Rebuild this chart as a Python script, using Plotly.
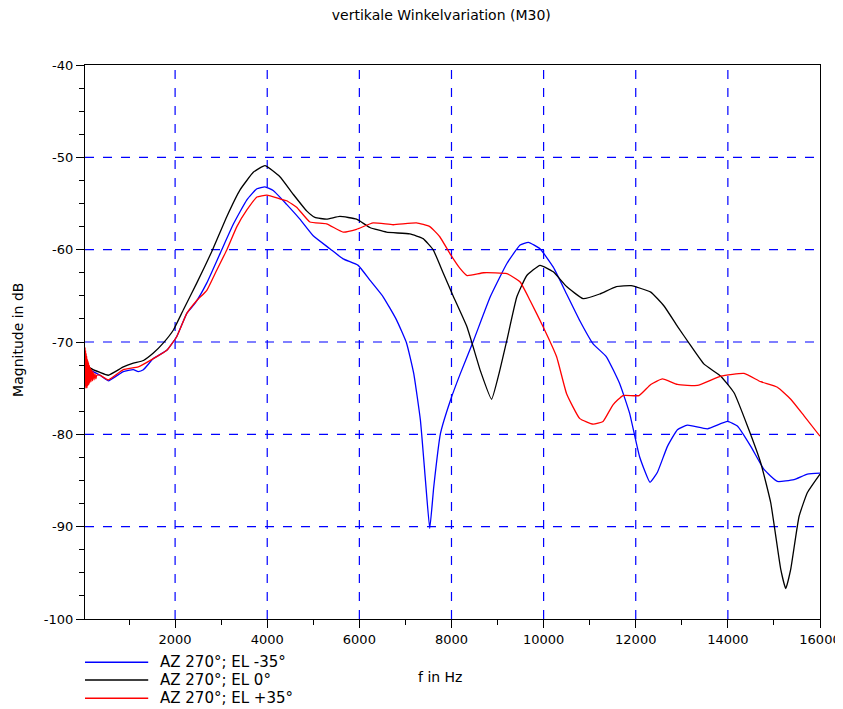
import plotly.graph_objects as go

# ---------------- data ----------------
f_el_m35 = [44, 150, 370, 550, 876, 1093, 1200, 1311, 1528, 1820, 2037, 2254, 2435, 2689, 2978,
            3268, 3558, 3776, 3950, 4130, 4421, 4709, 4998, 5360, 5648, 5974, 6228, 6516, 6806,
            7024, 7180, 7326, 7435, 7528, 7615, 7761, 7978, 8194, 8482, 8842, 9203, 9490, 9670,
            9922, 10210, 10499, 10786, 11074, 11363, 11650, 11866, 12082, 12310, 12471, 12688,
            12905, 13122, 13556, 13991, 14207, 14497, 14784, 15075, 15436, 15727, 16000]
db_el_m35 = [-72.5, -73.0, -73.6, -74.2, -73.2, -73.0, -73.2, -73.0, -71.8, -70.9, -69.4, -66.9,
             -65.8, -63.6, -60.4, -57.2, -54.6, -53.4, -53.2, -53.6, -55.1, -56.7, -58.5, -59.9,
             -61.0, -61.7, -63.3, -65.1, -67.6, -70.1, -73.4, -78.5, -85.0, -90.2, -85.7, -79.9,
             -76.3, -73.4, -69.8, -65.1, -61.5, -59.5, -59.2, -59.9, -61.9, -64.8, -67.7, -70.2,
             -71.6, -74.5, -77.7, -82.4, -85.2, -84.1, -81.3, -79.5, -79.0, -79.4, -78.6, -79.1,
             -81.3, -83.8, -85.1, -84.9, -84.3, -84.2]

f_el_0 = [44, 150, 370, 550, 876, 1093, 1311, 1528, 1746, 1963, 2180, 2472, 2797, 3124, 3413,
          3703, 3950, 4275, 4564, 4855, 5035, 5288, 5577, 5939, 6228, 6590, 7095, 7384, 7601,
          7818, 8034, 8339, 8626, 8870, 9033, 9203, 9419, 9635, 9922, 10210, 10499, 10858,
          11218, 11579, 11900, 12326, 12614, 12905, 13194, 13483, 13845, 14134, 14425, 14714,
          14930, 15147, 15256, 15365, 15545, 15727, 16000]
db_el_0 = [-72.3, -72.8, -73.3, -73.6, -72.7, -72.3, -72.0, -71.2, -70.1, -68.7, -66.5, -63.6,
           -60.2, -56.4, -53.5, -51.6, -50.9, -52.1, -54.0, -55.8, -56.5, -56.7, -56.4, -56.7,
           -57.6, -58.1, -58.3, -58.8, -60.0, -62.5, -65.0, -68.4, -73.1, -76.2, -73.4, -69.8,
           -65.1, -62.8, -61.7, -62.4, -64.0, -65.3, -64.8, -64.0, -63.9, -64.6, -66.1, -68.3,
           -70.4, -72.4, -73.7, -75.5, -79.1, -83.1, -87.4, -94.6, -96.7, -94.6, -88.9, -86.3,
           -84.3]

f_el_p35 = [44, 50, 56, 62, 68, 74, 80, 86, 92, 98, 105, 112, 120, 130, 140, 150, 162, 175, 190,
            205, 220, 240, 260, 280, 300, 370, 550, 876, 1200,
            1528, 1820, 2037, 2254, 2472, 2689, 2906, 3124, 3341, 3558, 3776, 3993, 4275, 4421,
            4638, 4926, 5288, 5648, 5939, 6299, 6733, 7240, 7529, 7746, 7963, 8180, 8339, 8698,
            9203, 9490, 9706, 9994, 10282, 10499, 10786, 11074, 11290, 11506, 11722, 12072,
            12326, 12579, 12905, 13339, 13845, 14351, 14714, 15075, 15365, 15654, 16000]
db_el_p35 = [-70.6, -74.8, -70.9, -75.0, -71.2, -74.9, -71.5, -75.0, -71.8, -74.8, -72.0, -74.7,
             -72.2, -74.6, -72.5, -74.4, -72.8, -74.3, -73.0, -74.2, -73.2, -74.1, -73.4, -74.0,
             -73.6, -73.6, -74.1, -73.0, -72.7, -71.8, -70.9, -69.4, -66.9, -65.5, -64.4,
             -62.2, -60.0, -57.5, -55.7, -54.3, -54.1, -54.5, -54.7, -55.4, -57.0, -57.2, -58.1,
             -57.8, -57.1, -57.3, -57.1, -57.5, -58.6, -60.4, -62.0, -62.8, -62.5, -62.6, -63.5,
             -65.5, -68.4, -71.6, -75.6, -78.3, -78.9, -78.6, -76.8, -75.8, -75.8, -74.6, -74.0,
             -74.6, -74.7, -73.7, -73.4, -74.3, -74.9, -76.2, -78.0, -80.2]

series_names = ["AZ 270°; EL -35°", "AZ 270°; EL 0°", "AZ 270°; EL +35°"]
series_colors = ["#0000ff", "#000000", "#ff0000"]
x_ticks = [2000, 4000, 6000, 8000, 10000, 12000, 14000, 16000]
y_ticks = [-100, -90, -80, -70, -60, -50, -40]
X_RANGE = [44, 16000]
Y_RANGE = [-100, -40]

FONT = "DejaVu Sans, Verdana, sans-serif"
FS = 14
TICK_FS = 13
GRID = "#0000ff"

fig = go.Figure()

# dashed blue grid drawn as shapes at the tick values (below the curves)
for xv in x_ticks[:-1]:
    fig.add_shape(type="line", xref="x", yref="paper", x0=xv, x1=xv, y0=0, y1=1, layer="below",
                  line=dict(color=GRID, width=1.2, dash="dash"))
for yv in y_ticks[1:-1]:
    fig.add_shape(type="line", xref="paper", yref="y", x0=0, x1=1, y0=yv, y1=yv, layer="below",
                  line=dict(color=GRID, width=1.2, dash="dash"))

for fx, fy, name, col in zip([f_el_m35, f_el_0, f_el_p35], [db_el_m35, db_el_0, db_el_p35],
                             series_names, series_colors):
    fig.add_trace(go.Scatter(x=fx, y=fy, mode="lines", name=name, showlegend=False,
                             line=dict(color=col, width=1.3, shape="spline", smoothing=0.4)))

# manual legend below the plot (paper coordinates)
leg_y = [-0.078, -0.110, -0.143]
for yy, name, col in zip(leg_y, series_names, series_colors):
    fig.add_shape(type="line", xref="paper", yref="paper", x0=0.0, x1=0.086, y0=yy, y1=yy,
                  line=dict(color=col, width=1.5))
    fig.add_annotation(xref="paper", yref="paper", x=0.099, y=yy, text=name, showarrow=False,
                       xanchor="left", yanchor="middle", font=dict(family=FONT, size=15, color="black"))

fig.add_annotation(xref="paper", yref="paper", x=0.483, y=-0.105, text="f in Hz", showarrow=False,
                   xanchor="center", yanchor="middle", font=dict(family=FONT, size=FS, color="black"))
fig.add_annotation(xref="paper", yref="paper", x=-0.091, y=0.504, text="Magnitude in dB",
                   showarrow=False, textangle=-90, xanchor="center", yanchor="middle",
                   font=dict(family=FONT, size=FS, color="black"))

# the page body has an 8px margin; margins compensate so the plot lands where the reference's does
fig.update_layout(
    width=843, height=709,
    margin=dict(l=77, r=31, t=57, b=98),
    paper_bgcolor="white", plot_bgcolor="white",
    title=dict(text="vertikale Winkelvariation (M30)", x=0.514, xanchor="center", y=0.990,
               yanchor="middle", font=dict(family=FONT, size=FS, color="black")),
    font=dict(family=FONT, size=FS, color="black"),
)
fig.update_xaxes(range=X_RANGE, tickvals=x_ticks, ticktext=[str(v) for v in x_ticks],
                 automargin=False,
                 showline=True, linecolor="black", linewidth=1.3, mirror=True,
                 ticks="outside", ticklen=8, tickcolor="black",
                 minor=dict(dtick=1000, tick0=0, ticks="outside", ticklen=5, tickcolor="black",
                            showgrid=False),
                 showgrid=False, zeroline=False, tickfont=dict(family=FONT, size=TICK_FS, color="black"))
fig.update_yaxes(range=Y_RANGE, tickvals=y_ticks, ticktext=[str(v) for v in y_ticks],
                 automargin=False,
                 showline=True, linecolor="black", linewidth=1.3, mirror=True,
                 ticks="outside", ticklen=8, tickcolor="black",
                 minor=dict(dtick=2.5, tick0=0, ticks="outside", ticklen=5, tickcolor="black",
                            showgrid=False),
                 showgrid=False, zeroline=False, tickfont=dict(family=FONT, size=TICK_FS, color="black"))

fig.write_html("out.html")
